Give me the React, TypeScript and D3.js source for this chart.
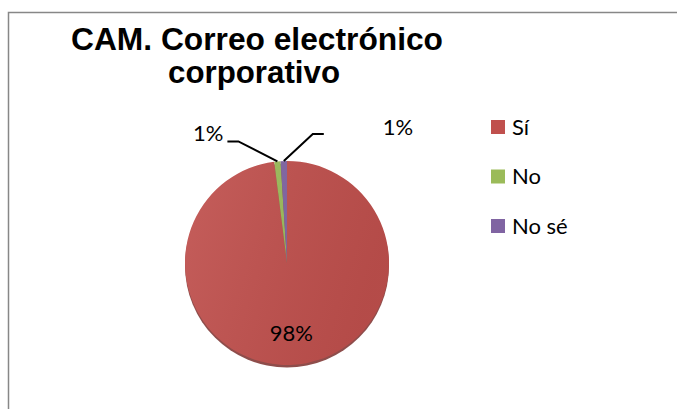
import React from 'react';
import * as d3 from 'd3';

// chart data
const categories = ['Sí', 'No', 'No sé'];
const values = [98, 1, 1];
const labels = ['98%', '1%', '1%'];
const colors = ['#C0504D', '#9BBB59', '#8064A2'];
const titleLines = ['CAM. Correo electrónico', 'corporativo'];

const W = 677;
const H = 409;
const cx = 287;
const cy = 263;
const radius = 102;
const labelFont = 'Lato, "Open Sans", sans-serif';

// title lines (Arial bold in the original)
const titlePos = [
  { x: 71, y: 50, w: 372 },
  { x: 168, y: 83, w: 172 },
];

// manual placement of the outside labels (Excel style leader lines)
const outside: Record<number, { ex: number; ey: number; len: number; tx: number; ty: number; anchor: string }> = {
  1: { ex: -39, ey: -20, len: -11, tx: -54, ty: -20, anchor: 'end' },
  2: { ex: 29, ey: -27, len: 11, tx: 99, ty: -26, anchor: 'start' },
};

export default function App() {
  const pie = d3.pie<number>().sort(null).startAngle(0).endAngle(2 * Math.PI);
  const arcs = pie(values);
  const arc = d3.arc<d3.PieArcDatum<number>>().innerRadius(0).outerRadius(radius);
  const inner = d3.arc<d3.PieArcDatum<number>>().innerRadius(70).outerRadius(70);

  return (
    <svg width={W} height={H} style={{ position: 'absolute', left: 0, top: 0, background: '#fff' }}>
      <defs>
        <linearGradient id="shade" x1="0" y1="0" x2="1" y2="0.3">
          <stop offset="0" stopColor="#fff" stopOpacity={0.08} />
          <stop offset="1" stopColor="#000" stopOpacity={0.06} />
        </linearGradient>
      </defs>
      <rect x={8.5} y={12.5} width={W} height={H} fill="#fff" stroke="#878787" strokeWidth={1.5} />

      {titleLines.map((t, i) => (
        <text key={t} x={titlePos[i].x} y={titlePos[i].y} textLength={titlePos[i].w} lengthAdjust="spacingAndGlyphs"
          fontFamily='"Liberation Sans", Arial, sans-serif' fontWeight="bold" fontSize={31} fill="#000">
          {t}
        </text>
      ))}

      <g transform={`translate(${cx},${cy})`}>
        <ellipse cx={0} cy={2.5} rx={radius} ry={radius} fill="#7a2e2c" opacity={0.85} />
        {arcs.map((a, i) => (
          <path key={categories[i]} d={arc(a) || ''} fill={colors[i]} />
        ))}
        <circle r={radius} fill="url(#shade)" />
        {arcs.map((a, i) => {
          if (!outside[i]) {
            const [x, y] = inner.centroid(a);
            return (
              <text key={'l' + i} x={x} y={y} dy="0.35em" textAnchor="middle"
                fontFamily={labelFont} fontSize={22} fill="#000">{labels[i]}</text>
            );
          }
          const o = outside[i];
          const mid = (a.startAngle + a.endAngle) / 2;
          const px = Math.sin(mid) * radius;
          const py = -Math.cos(mid) * radius;
          const ex = px + o.ex;
          const ey = py + o.ey;
          return (
            <g key={'l' + i}>
              <polyline points={`${px},${py} ${ex},${ey} ${ex + o.len},${ey}`}
                fill="none" stroke="#000" strokeWidth={2} />
              <text x={px + o.tx} y={py + o.ty} textAnchor={o.anchor}
                fontFamily={labelFont} fontSize={22} fill="#000">{labels[i]}</text>
            </g>
          );
        })}
      </g>

      {categories.map((c, i) => (
        <g key={c} transform={`translate(491,${120 + i * 49.5})`}>
          <rect width={14} height={14} fill={colors[i]} />
          <text x={21} y={7} dy="0.36em" fontFamily={labelFont} fontSize={22} fill="#000">{c}</text>
        </g>
      ))}
    </svg>
  );
}
